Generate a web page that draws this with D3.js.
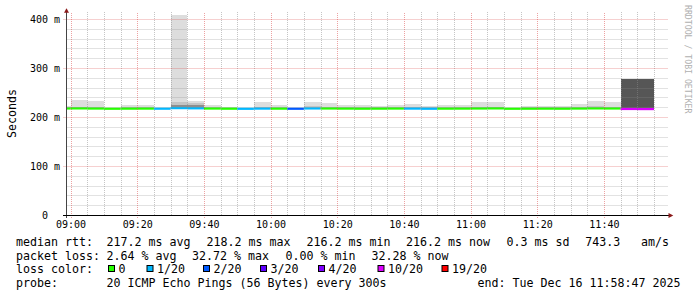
<!DOCTYPE html>
<html><head><meta charset="utf-8">
<script src="https://cdn.jsdelivr.net/npm/d3@7"></script>
<style>
html,body{margin:0;padding:0;background:#fff;}
svg{display:block;}
text{font-family:"DejaVu Sans Mono",monospace;white-space:pre;}
</style></head><body>
<svg id="c" width="697" height="297"></svg>
<script>
// ---------- data ----------
const rangeStart = "2025-12-16 08:58:47";
const rangeEnd   = "2025-12-16 11:58:47";
const intervalStart = ["08:55","09:00","09:05","09:10","09:15","09:20","09:25","09:30","09:35","09:40","09:45","09:50",
  "09:55","10:00","10:05","10:10","10:15","10:20","10:25","10:30","10:35","10:40","10:45","10:50",
  "10:55","11:00","11:05","11:10","11:15","11:20","11:25","11:30","11:35","11:40","11:45","11:50"];
const medianRtt = [217.4,217.6,217.3,216.9,217.1,217.2,217.0,218.2,217.8,217.3,217.0,216.8,
  217.2,217.1,216.9,217.5,217.4,217.2,217.0,217.1,217.3,217.2,216.9,217.1,
  217.2,217.4,217.6,216.9,217.0,217.1,217.0,217.3,217.6,217.4,216.4,216.2];
const lossPercent = [0,0,0,0,0,0,3.2,3.2,3.2,0,0,3.2,
  3.2,0,6.4,3.2,0,0,0,0,0,3.2,3.2,0,
  0,0,0,0,0,0,0,0,0,0,32.72,32.28];
const smokeBottom = [216.2,216.4,216.1,215.8,216.0,216.1,215.9,216.9,216.6,216.2,215.9,215.7,
  216.1,216.0,215.8,216.4,216.3,216.1,215.9,216.0,216.2,216.1,215.8,216.0,
  216.1,216.3,216.5,215.8,215.9,216.0,215.9,216.2,216.5,216.3,214.5,214.5];
const smokeOuter = [222.4,235.7,233.3,218.5,224.5,224.5,219.0,420.0,232.0,224.0,221.0,219.0,
  231.0,225.0,219.0,231.0,228.6,224.0,224.0,222.0,224.0,226.5,222.4,224.5,
  224.5,230.6,230.6,219.0,223.0,223.0,222.4,227.0,232.6,230.6,null,null];
const smokeMiddle = [219.5,221.0,220.5,null,219.5,219.5,null,230.0,228.6,219.8,null,null,
  221.0,220.0,null,221.5,221.0,219.5,219.5,220.0,219.5,220.5,219.8,219.5,
  219.5,220.5,220.5,null,219.5,219.5,219.5,221.0,222.0,221.0,null,null];
const smokeInner = [null,null,null,null,null,null,null,225.5,225.0,null,null,null,
  null,null,null,null,null,null,null,null,null,null,null,null,
  null,null,null,null,null,null,null,null,null,null,null,null];
const smokeCore = [null,null,null,null,null,null,null,null,null,null,null,null,
  null,null,null,null,null,null,null,null,null,null,null,null,
  null,null,null,null,null,null,null,null,null,null,277.5,277.5];
const yTicks = [0,100,200,300,400];
const yTickLabels = ["0\u00a0\u00a0","100 m","200 m","300 m","400 m"];
const xTicks = ["09:00","09:20","09:40","10:00","10:20","10:40","11:00","11:20","11:40"];
const lossThresholds = [0,1,2,3,4,10,19];
const lossLabels = ["0","1/20","2/20","3/20","4/20","10/20","19/20"];
const lossColors = ["#26ff00","#00b8ff","#0059ff","#5e00ff","#7e00ff","#dd00ff","#ff0000"];
const rttLegend = ["median rtt:","217.2 ms avg","218.2 ms max","216.2 ms min","216.2 ms now","0.3 ms sd","743.3","am/s"];
const lossLegend = ["packet loss:","2.64 % avg","32.72 % max","0.00 % min","32.28 % now"];
const probeLegend = ["probe:","20 ICMP Echo Pings (56 Bytes) every 300s","end: Tue Dec 16 11:58:47 2025"];
const pingsPerStep = 20;

// ---------- drawing ----------
const svg = d3.select("#c");
const parseFull = d3.timeParse("%Y-%m-%d %H:%M:%S");
const parseHM = s => parseFull("2025-12-16 " + s + ":00");
const tStart = parseFull(rangeStart), tEnd = parseFull(rangeEnd);
const x = d3.scaleTime().domain([tStart, tEnd]).range([66.5, 666.5]);
const y = d3.scaleLinear().domain([0, 408.16]).range([215, 15]);

svg.append("defs").append("clipPath").attr("id","plot")
  .append("rect").attr("x",66.5).attr("y",15).attr("width",600).attr("height",200);

const intervals = intervalStart.map((s,i)=>{
  const t0 = parseHM(s), t1 = d3.timeMinute.offset(t0,5);
  return {i, x0: x(t0 < tStart ? tStart : t0), x1: x(t1 > tEnd ? tEnd : t1)};
});

const g = svg.append("g").attr("clip-path","url(#plot)");
const bands = [
  {top: smokeOuter, color:"#dddddd"},
  {top: smokeMiddle, color:"#c4c4c4"},
  {top: smokeInner, color:"#8e8e8e"},
  {top: smokeCore, color:"#565656"}
];
bands.forEach(b=>{
  g.selectAll(null).data(intervals.filter(d=>b.top[d.i]!=null)).join("rect")
    .attr("x",d=>d.x0).attr("width",d=>d.x1-d.x0)
    .attr("y",d=>y(b.top[d.i])).attr("height",d=>y(smokeBottom[d.i])-y(b.top[d.i]))
    .attr("fill",b.color).attr("shape-rendering","crispEdges");
});

function lossColor(pct){
  const cnt = pct/100*pingsPerStep;
  let last = -1;
  for (let j=0;j<lossThresholds.length;j++){
    if (cnt > last && cnt <= lossThresholds[j]) return lossColors[j];
    last = lossThresholds[j];
  }
  return lossColors[lossColors.length-1];
}
const sw = 2.3;
g.selectAll(null).data(intervals).join("rect")
  .attr("x",d=>d.x0).attr("width",d=>d.x1-d.x0)
  .attr("y",d=>y(medianRtt[d.i]+sw)).attr("height",d=>y(medianRtt[d.i]-sw)-y(medianRtt[d.i]+sw))
  .attr("fill",d=>lossColor(lossPercent[d.i]));

// grid
const grid = svg.append("g").attr("fill","none").attr("stroke-width",1).attr("stroke-dasharray","1,1");
const minorY = d3.range(20, 408, 20).filter(v=>v%100!==0);
grid.selectAll(null).data(minorY).join("line")
  .attr("x1",66.5).attr("x2",668).attr("y1",d=>Math.round(y(d))+0.5).attr("y2",d=>Math.round(y(d))+0.5)
  .attr("stroke","rgba(140,140,140,0.5)");
const xMinor = d3.timeMinute.every(5).range(tStart, tEnd).filter(t=>t.getMinutes()%20!==0);
grid.selectAll(null).data(xMinor).join("line")
  .attr("y1",215).attr("y2",12).attr("x1",d=>Math.round(x(d))+0.5).attr("x2",d=>Math.round(x(d))+0.5)
  .attr("stroke","rgba(140,140,140,0.5)");
grid.selectAll(null).data(yTicks.filter(v=>v>0)).join("line")
  .attr("x1",63.5).attr("x2",668).attr("y1",d=>Math.round(y(d))+0.5).attr("y2",d=>Math.round(y(d))+0.5)
  .attr("stroke","rgba(220,70,70,0.5)");
const xMajor = xTicks.map(parseHM);
grid.selectAll(null).data(xMajor).join("line")
  .attr("y1",218).attr("y2",12).attr("x1",d=>Math.round(x(d))+0.5).attr("x2",d=>Math.round(x(d))+0.5)
  .attr("stroke","rgba(220,70,70,0.5)");

// axes lines + arrows
svg.append("line").attr("x1",66.5).attr("x2",66.5).attr("y1",218).attr("y2",11).attr("stroke","#444");
svg.append("line").attr("x1",63).attr("x2",669).attr("y1",215.5).attr("y2",215.5).attr("stroke","#000");
svg.append("path").attr("d","M64,12.8L69,12.8L66.5,8.2Z").attr("fill","#8b1a1a");
svg.append("path").attr("d","M668.5,213L668.5,218L673.3,215.5Z").attr("fill","#8b1a1a");

// tick labels via d3 axes
const ya = svg.append("g").attr("transform","translate(60,0)")
  .call(d3.axisLeft(y).tickValues(yTicks).tickFormat((d,i)=>yTickLabels[i]).tickSize(0).tickPadding(0));
ya.select(".domain").remove();
ya.selectAll("text").attr("dy",null).attr("y",3.7).attr("x",0)
  .attr("font-family","DejaVu Sans Mono").attr("font-size",10).attr("fill","#000");
const xa = svg.append("g").attr("transform","translate(0,215)")
  .call(d3.axisBottom(x).tickValues(xMajor).tickFormat(d3.timeFormat("%H:%M")).tickSize(0));
xa.select(".domain").remove();
xa.selectAll("text").attr("dy",null).attr("y",13)
  .attr("font-family","DejaVu Sans Mono").attr("font-size",10).attr("fill","#000");

// titles
svg.append("text").attr("transform","translate(15.5,113.5) rotate(-90)").attr("text-anchor","middle")
  .attr("font-size",11.6).attr("fill","#000").text("Seconds");
svg.append("text").attr("transform","translate(684.5,5) rotate(90)").attr("text-anchor","start")
  .attr("font-size",8.2).attr("fill","#b0b0b0").text("RRDTOOL / TOBI OETIKER");

// legend
const fs = 11.63;
const leg = svg.append("g").attr("font-size",fs).attr("fill","#000");
function row(items, xs, yb){
  items.forEach((t,k)=>leg.append("text").attr("x",xs[k]).attr("y",yb).text(t));
}
row(rttLegend, [16,106.5,206.5,306.5,406,506.5,585.2,641], 246);
row(lossLegend, [16,106.5,192,285.5,371.5], 259.6);
leg.append("text").attr("x",16).attr("y",273).text("loss color:");
const boxX = [108.5,147,203.5,260.5,318.5,378,442];
lossLabels.forEach((l,k)=>{
  leg.append("rect").attr("x",boxX[k]).attr("y",265.5).attr("width",6).attr("height",6)
    .attr("fill",lossColors[k]).attr("stroke","#000").attr("stroke-width",1);
  leg.append("text").attr("x",boxX[k]+10).attr("y",273).text(l);
});
row(probeLegend, [16,106.5,477.5], 286.8);
</script>
</body></html>
